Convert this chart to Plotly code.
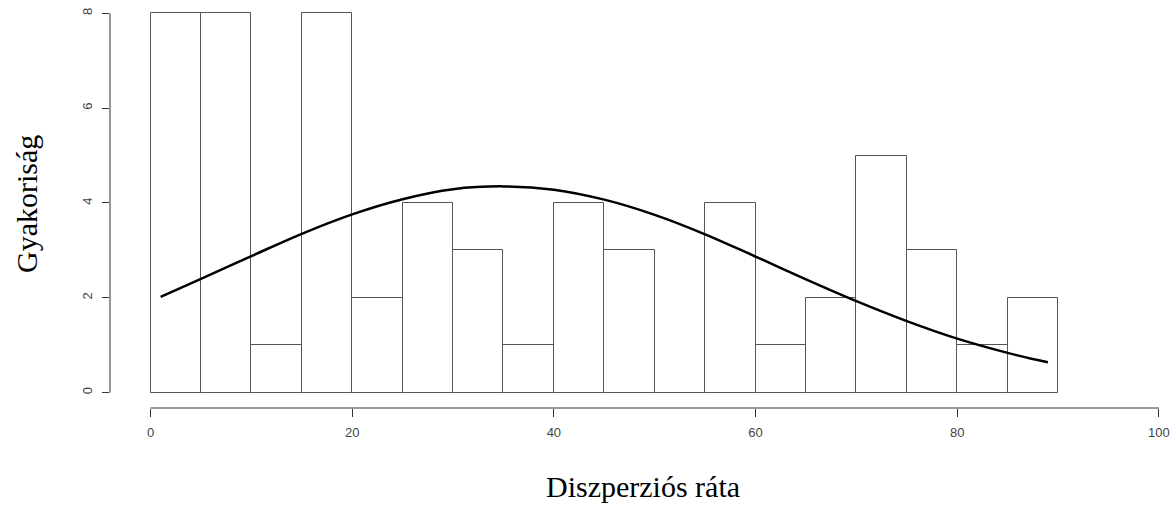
import plotly.graph_objects as go

# Histogram data (bin width 5, from 0 to 90)
bin_left = [0, 5, 10, 15, 20, 25, 30, 35, 40, 45, 50, 55, 60, 65, 70, 75, 80, 85]
counts = [8, 8, 1, 8, 2, 4, 3, 1, 4, 3, 0, 4, 1, 2, 5, 3, 1, 2]
bin_width = 5

# Fitted density curve
curve_x = [1, 5, 10, 15, 20, 25, 30, 35, 40, 45, 50, 55, 60, 65, 70, 75, 80, 85, 89]
curve_y = [2.02, 2.40, 2.88, 3.35, 3.76, 4.08, 4.29, 4.35, 4.28, 4.07, 3.75, 3.34,
           2.87, 2.39, 1.93, 1.51, 1.14, 0.84, 0.64]

x_ticks = [0, 20, 40, 60, 80, 100]
y_ticks = [0, 2, 4, 6, 8]

x_title = "Diszperziós ráta"
y_title = "Gyakoriság"

centers = [l + bin_width / 2 for l in bin_left]

fig = go.Figure()
fig.add_trace(go.Bar(
    x=centers, y=counts, width=[bin_width] * len(counts),
    marker=dict(color="white", line=dict(color="#555555", width=1)),
    hoverinfo="skip", showlegend=False,
))
fig.add_trace(go.Scatter(
    x=curve_x, y=curve_y, mode="lines",
    line=dict(color="black", width=2.5, shape="spline"),
    hoverinfo="skip", showlegend=False,
))

tick_font = dict(family="Liberation Sans, Arial, sans-serif", size=13, color="#444444")
title_font = dict(family="Liberation Serif, Times New Roman, serif", size=30, color="black")

fig.update_layout(
    width=1174, height=506,
    margin=dict(l=110, r=0, t=0, b=98),
    paper_bgcolor="white", plot_bgcolor="white",
    bargap=0,
    xaxis=dict(range=[-4.02, 101.5], tickvals=x_ticks, ticktext=[str(v) for v in x_ticks],
               ticks="outside", ticklen=8, tickcolor="#333333", tickwidth=1,
               ticklabelstandoff=4,
               showline=False, showgrid=False, zeroline=False, tickfont=tick_font),
    yaxis=dict(range=[-0.323, 8.28], tickvals=y_ticks, ticktext=[str(v) for v in y_ticks],
               ticks="outside", ticklen=7, tickcolor="#333333", tickwidth=1, tickangle=-90,
               ticklabelstandoff=5,
               showline=False, showgrid=False, zeroline=False, tickfont=tick_font),
    shapes=[
        dict(type="line", xref="paper", yref="y", x0=0, x1=0, y0=y_ticks[0], y1=y_ticks[-1],
             line=dict(color="#333333", width=1)),
        dict(type="line", xref="x", yref="paper", x0=x_ticks[0], x1=x_ticks[-1], y0=0, y1=0,
             line=dict(color="#333333", width=1)),
    ],
    annotations=[
        dict(text=x_title, xref="x", yref="paper", x=48.8, y=0, yshift=-78,
             xanchor="center", yanchor="middle", showarrow=False, font=title_font),
        dict(text=y_title, xref="paper", yref="paper", x=0, y=0.5, xshift=-84,
             xanchor="center", yanchor="middle", textangle=-90, showarrow=False, font=title_font),
    ],
)

fig.write_html("out.html")
